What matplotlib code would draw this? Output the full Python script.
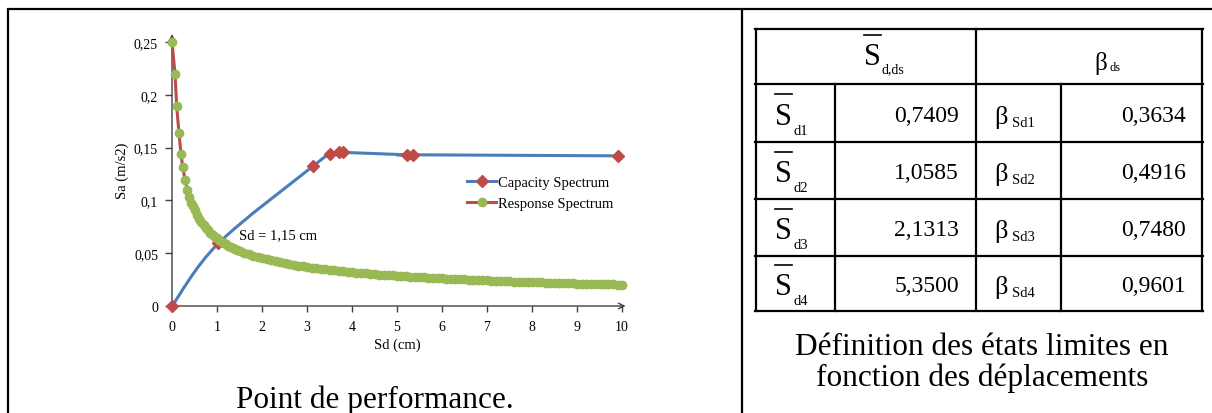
import matplotlib
matplotlib.use('Agg')
import matplotlib.pyplot as plt
import numpy as np
from matplotlib.path import Path
from matplotlib.patches import PathPatch
from matplotlib.lines import Line2D

plt.rcParams['font.family'] = ['Liberation Serif', 'DejaVu Serif']

# capacity spectrum (Sd in cm, Sa in m/s2)
cap_sd = [0.0, 1.03, 3.14, 3.50, 3.72, 3.80, 5.23, 5.36, 9.90]
cap_sa = [0.0, 0.0593, 0.1326, 0.1436, 0.1455, 0.1455, 0.1432, 0.1432, 0.1422]

# response spectrum
resp_sd = [0.0, 0.067, 0.104, 0.156, 0.20, 0.238, 0.289, 0.34, 0.384, 0.422, 0.46,
           0.5, 0.55, 0.6, 0.65, 0.7, 0.75, 0.8, 0.85, 0.9, 0.95, 1.0, 1.05, 1.1,
           1.15, 1.2, 1.25, 1.3, 1.35, 1.4, 1.45, 1.5, 1.6, 1.7, 1.8, 1.9, 2.0,
           2.1, 2.2, 2.3, 2.4, 2.5, 2.6, 2.7, 2.8, 2.9, 3.0, 3.1, 3.2, 3.3, 3.4,
           3.5, 3.6, 3.7, 3.8, 3.9, 4.0, 4.1, 4.2, 4.3, 4.4, 4.5, 4.6, 4.7, 4.8,
           4.9, 5.0, 5.1, 5.2, 5.3, 5.4, 5.5, 5.6, 5.7, 5.8, 5.9, 6.0, 6.1, 6.2,
           6.3, 6.4, 6.5, 6.6, 6.7, 6.8, 6.9, 7.0, 7.1, 7.2, 7.3, 7.4, 7.5, 7.6,
           7.7, 7.8, 7.9, 8.0, 8.1, 8.2, 8.3, 8.4, 8.5, 8.6, 8.7, 8.8, 8.9, 9.0,
           9.1, 9.2, 9.3, 9.4, 9.5, 9.6, 9.7, 9.8, 9.9, 10.0]
resp_sa = [0.250, 0.220, 0.189, 0.1635, 0.144, 0.1316, 0.1196, 0.1098, 0.1029, 0.0975, 0.0944,
           0.0905, 0.0863, 0.0826, 0.0794, 0.0765, 0.0739, 0.0716, 0.0694, 0.0675, 0.0657, 0.0640, 0.0625, 0.0610,
           0.0597, 0.0584, 0.0572, 0.0561, 0.0551, 0.0541, 0.0531, 0.0523, 0.0506, 0.0491, 0.0477, 0.0464, 0.0453,
           0.0442, 0.0432, 0.0422, 0.0413, 0.0405, 0.0397, 0.0389, 0.0382, 0.0376, 0.0369, 0.0363, 0.0358, 0.0352, 0.0347,
           0.0342, 0.0337, 0.0333, 0.0328, 0.0324, 0.0320, 0.0316, 0.0312, 0.0309, 0.0305, 0.0302, 0.0298, 0.0295, 0.0292,
           0.0289, 0.0286, 0.0283, 0.0281, 0.0278, 0.0275, 0.0273, 0.0270, 0.0268, 0.0266, 0.0263, 0.0261, 0.0259, 0.0257,
           0.0255, 0.0253, 0.0251, 0.0249, 0.0247, 0.0245, 0.0244, 0.0242, 0.0240, 0.0239, 0.0237, 0.0235, 0.0234, 0.0232,
           0.0231, 0.0229, 0.0228, 0.0226, 0.0225, 0.0223, 0.0222, 0.0221, 0.0220, 0.0218, 0.0217, 0.0216, 0.0215, 0.0213,
           0.0212, 0.0211, 0.0210, 0.0209, 0.0208, 0.0207, 0.0205, 0.0204, 0.0203, 0.0202]

x_ticks = [0, 1, 2, 3, 4, 5, 6, 7, 8, 9, 10]
y_ticks = [0, 0.05, 0.1, 0.15, 0.2, 0.25]
y_ticklabels = ['0', '0,05', '0,1', '0,15', '0,2', '0,25']

# table
sd_subs = ['d1', 'd2', 'd3', 'd4']
sd_vals = [0.7409, 1.0585, 2.1313, 5.3500]
beta_subs = ['Sd1', 'Sd2', 'Sd3', 'Sd4']
beta_vals = [0.3634, 0.4916, 0.7480, 0.9601]

blue = '#4A7EBB'
red = '#BE4B48'
green = '#98B954'
axcol = '#404040'


def smooth_path(xs, ys, t=1/6.):
    # excel-like smoothed line (catmull-rom as cubic bezier)
    pts = np.column_stack([xs, ys])
    n = len(pts)
    verts = [pts[0]]
    codes = [Path.MOVETO]
    for i in range(n - 1):
        p0 = pts[i - 1] if i > 0 else pts[i]
        p1 = pts[i]
        p2 = pts[i + 1]
        p3 = pts[i + 2] if i + 2 < n else pts[i + 1]
        verts += [p1 + (p2 - p0) * t, p2 - (p3 - p1) * t, p2]
        codes += [Path.CURVE4] * 3
    return Path(verts, codes)


fig = plt.figure(figsize=(12.12, 4.14), dpi=100)

# overlay in pixel coords for frame, table and captions
ov = fig.add_axes([0, 0, 1, 1])
ov.set_xlim(0, 1212)
ov.set_ylim(414, 0)
ov.axis('off')

lw_frame = 1.6
ov.plot([7, 1212], [10, 10], color='k', lw=lw_frame, solid_capstyle='butt')
ov.plot([8, 8], [10, 414], color='k', lw=lw_frame, solid_capstyle='butt')
ov.plot([742, 742], [10, 414], color='k', lw=lw_frame, solid_capstyle='butt')

# table grid
row_y = [30, 85, 143, 200, 257, 312]
for y in row_y:
    ov.plot([755, 1203], [y, y], color='k', lw=lw_frame, solid_capstyle='projecting')
for x in [756, 976, 1202]:
    ov.plot([x, x], [30, 312], color='k', lw=lw_frame, solid_capstyle='projecting')
for x in [835, 1061]:
    ov.plot([x, x], [85, 312], color='k', lw=lw_frame, solid_capstyle='projecting')

# header
ov.text(872, 65, 'S', fontsize=22, ha='center', va='baseline')
ov.plot([864, 881], [36, 36], color='k', lw=1.2)
ov.text(882, 73, 'd,ds', fontsize=10, ha='left', va='baseline')
ov.text(1094, 70, '\u03b2', fontsize=18, ha='left', va='baseline')
ov.text(1109, 71, 'ds', fontsize=9, ha='left', va='baseline')

for i in range(4):
    yc = (row_y[i + 1] + row_y[i + 2]) / 2.0
    ov.text(783, yc + 11, 'S', fontsize=22, ha='center', va='baseline')
    ov.plot([775, 792], [yc - 19, yc - 19], color='k', lw=1.2)
    ov.text(793, yc + 21, sd_subs[i], fontsize=10.5, ha='left', va='baseline')
    ov.text(959, yc + 8, f'{sd_vals[i]:.4f}'.replace('.', ','), fontsize=17, ha='right', va='baseline')
    ov.text(994, yc + 10, '\u03b2', fontsize=19, ha='left', va='baseline')
    ov.text(1012, yc + 13, beta_subs[i], fontsize=10.5, ha='left', va='baseline')
    ov.text(1186, yc + 8, f'{beta_vals[i]:.4f}'.replace('.', ','), fontsize=17, ha='right', va='baseline')

# captions
ov.text(375, 408, 'Point de performance.', fontsize=22.5, ha='center', va='baseline')
ov.text(982, 355, 'D\u00e9finition des \u00e9tats limites en', fontsize=22.5, ha='center', va='baseline')
ov.text(982, 386, 'fonction des d\u00e9placements', fontsize=22.5, ha='center', va='baseline')

# chart
ax = fig.add_axes([172 / 1212, 107 / 414, 450 / 1212, 272 / 414])
ax.patch.set_alpha(0)
ax.set_xlim(0, 10)
ax.set_ylim(0, 0.2576)
for s in ax.spines.values():
    s.set_visible(False)
ax.annotate('', xy=(1.008, 0), xytext=(0, 0), xycoords='axes fraction',
            arrowprops=dict(arrowstyle='->', color=axcol, lw=1.0, shrinkA=0, shrinkB=0))
ax.annotate('', xy=(0, 1), xytext=(0, 0), xycoords='axes fraction',
            arrowprops=dict(arrowstyle='->', color=axcol, lw=1.0, shrinkA=0, shrinkB=0))

ax.add_patch(PathPatch(smooth_path(cap_sd, cap_sa), fill=False, edgecolor=blue, lw=2.2,
                       capstyle='round', zorder=2))
ax.plot(cap_sd, cap_sa, ls='none', marker='D', ms=6, color=red, zorder=3, clip_on=False)
ax.plot(resp_sd, resp_sa, color=red, lw=2.2, zorder=4, clip_on=False)
ax.plot(resp_sd, resp_sa, ls='none', marker='o', ms=6, color=green, zorder=5, clip_on=False)

ax.set_xticks(x_ticks)
ax.set_xticklabels([str(v) for v in x_ticks])
ax.set_yticks(y_ticks)
ax.set_yticklabels(y_ticklabels)
ax.tick_params(axis='both', direction='out', length=4, width=1, color=axcol, labelsize=10, pad=6)
ax.tick_params(axis='y', length=5, pad=5)

ax.set_xlabel('Sd (cm)', fontsize=10.5)
ax.xaxis.set_label_coords(0.5, -0.115)
ax.set_ylabel('Sa (m/s2)', fontsize=10.5)
ax.yaxis.set_label_coords(-0.095, 0.5)

ax.text(1.48, 0.068, 'Sd = 1,15 cm', fontsize=10.5, ha='left', va='center')

handles = [Line2D([], [], color=blue, lw=2.2, marker='D', ms=6, mfc=red, mec=red),
           Line2D([], [], color=red, lw=2.2, marker='o', ms=6, mfc=green, mec=green)]
ax.legend(handles, ['Capacity Spectrum', 'Response Spectrum'], loc='center left',
          bbox_to_anchor=(0.64, 0.415), frameon=False, borderpad=0, handlelength=1.95,
          handletextpad=0.15, labelspacing=0.5, fontsize=10.5, numpoints=1)

fig.savefig('out.png', dpi=100)
